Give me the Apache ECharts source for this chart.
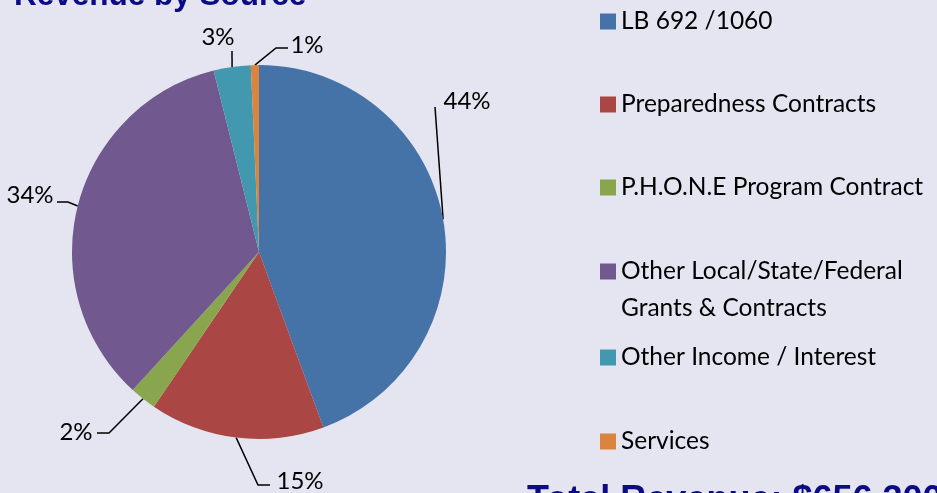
<!DOCTYPE html>
<html>
<head>
<meta charset="utf-8">
<script src="https://cdn.jsdelivr.net/npm/echarts@6/dist/echarts.min.js"></script>
<style>
html,body{margin:0;padding:0;background:#e5e5f1;}
#chart{width:937px;height:493px;}
</style>
</head>
<body>
<div id="chart"></div>
<script>
// ---- data ----
const categories = ['LB 692 /1060', 'Preparedness Contracts', 'P.H.O.N.E Program Contract', 'Other Local/State/Federal\nGrants & Contracts', 'Other Income / Interest', 'Services'];
const values = [44.4, 15.1, 2.3, 34.3, 3.2, 0.7];
const colors = ['#4572a7', '#aa4643', '#89a54e', '#71588f', '#4198af', '#db843d'];
const titleText = 'Revenue by Source';
const totalText = 'Total Revenue: $656,300';

// ---- label placement (pixel layout, not data) ----
const labelCfg = [
  {x: 467, y: 101, pts: [[435, 107]]},
  {x: 300, y: 481, pts: [[258, 485], [270, 485]]},
  {x: 76, y: 432, pts: [[109, 433], [97, 433]]},
  {x: 30, y: 195, pts: [[68, 202], [57, 202]]},
  {x: 218, y: 37, pts: [[232, 51]]},
  {x: 307, y: 45, pts: [[276, 48], [288, 48]]}
];

const chart = echarts.init(document.getElementById('chart'), null, {renderer: 'canvas'});
const labelFont = 'Lato';

const legendText = {fontFamily: labelFont, fontSize: 24.5, color: '#000', lineHeight: 37};
const tallIcon = 'path://M0,0L16,0L16,16L0,16Z M0,53L0.01,53';

chart.setOption({
  backgroundColor: '#e5e5f1',
  animation: false,
  title: [
    {text: titleText, left: 14, top: -20, padding: 0,
     textStyle: {fontFamily: 'Liberation Sans', fontWeight: 'bold', fontSize: 31.5, color: '#0b0b86'}},
    {text: totalText, left: 527, top: 483, padding: 0,
     textStyle: {fontFamily: 'Liberation Sans', fontWeight: 'bold', fontSize: 36, color: '#0b0b86'}}
  ],
  legend: [
    {orient: 'vertical', left: 595, top: -2, itemWidth: 16, itemHeight: 16, itemGap: 46,
     icon: 'rect', textStyle: legendText, selectedMode: false,
     data: categories.slice(0, 3)},
    {orient: 'vertical', left: 595, top: 248, itemWidth: 16, itemHeight: 53,
     textStyle: legendText, selectedMode: false,
     data: [{name: categories[3], icon: tallIcon}]},
    {orient: 'vertical', left: 595, top: 334, itemWidth: 16, itemHeight: 16, itemGap: 47,
     icon: 'rect', textStyle: legendText, selectedMode: false,
     data: categories.slice(4)}
  ],
  color: colors,
  series: [{
    type: 'pie',
    center: [259, 252],
    radius: 187,
    startAngle: 90,
    clockwise: true,
    avoidLabelOverlap: false,
    data: categories.map((c, i) => ({name: c, value: values[i]})),
    itemStyle: {borderWidth: 0},
    label: {
      show: true,
      position: 'outside',
      fontFamily: labelFont,
      fontSize: 24,
      color: '#000',
      formatter: p => Math.round(p.percent) + '%'
    },
    labelLine: {show: true, length: 10, length2: 10, smooth: false,
      lineStyle: {color: '#000', width: 1.5}},
    labelLayout: function (params) {
      const cfg = labelCfg[params.dataIndex];
      const start = params.labelLinePoints ? params.labelLinePoints[0] : [0, 0];
      return {
        x: cfg.x, y: cfg.y, align: 'center', verticalAlign: 'middle',
        labelLinePoints: [start].concat(cfg.pts.length === 1 ? [cfg.pts[0], cfg.pts[0]] : cfg.pts)
      };
    },
    emphasis: {disabled: true}
  }]
});
</script>
</body>
</html>
